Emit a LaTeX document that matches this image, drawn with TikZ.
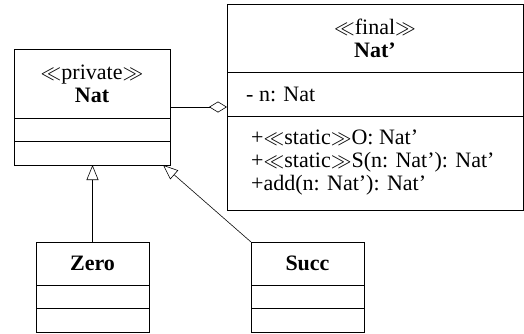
\documentclass[tikz,border=0pt]{standalone}
\usepackage{fontspec}
\setmainfont{LiberationSerif}[Extension=.ttf,UprightFont=*-Regular,BoldFont=*-Bold,
  ItalicFont=*-Italic,BoldItalicFont=*-BoldItalic]
\usetikzlibrary{arrows.meta,positioning,calc}
\tikzset{
  classhead/.style={draw,line width=0.8pt,inner sep=0pt,outer sep=0pt,align=center,
    font=\fontsize{22}{23}\selectfont},
  compart/.style={draw,line width=0.8pt,inner sep=0pt,outer sep=0pt,minimum height=23.5pt},
  member/.style={inner sep=0pt,align=left,anchor=west,font=\fontsize{22}{23}\selectfont},
  inherit/.style={line width=0.6pt,-{Triangle[open,length=15pt,width=12pt]}},
  aggreg/.style={line width=0.6pt,{Diamond[open,length=18pt,width=11pt]}-}
}

\begin{document}
\begin{tikzpicture}[x=1pt,y=-1pt]
\useasboundingbox (0,0) rectangle (524,333);

% Class Nat
\node[classhead,anchor=north west,minimum width=156pt,minimum height=69pt] (natH) at (14,49)
  {$\ll$private$\gg$\\\textbf{Nat}};
\node[compart,minimum width=156pt,below=0pt of natH] (natA) {};
\node[compart,minimum width=156pt,below=0pt of natA] (natO) {};

% Class Nat'
\node[classhead,anchor=north west,minimum width=296pt,minimum height=68.7pt] (finH) at (227,4)
  {$\ll$final$\gg$\\\textbf{Nat'}};
\node[compart,minimum width=296pt,minimum height=43.3pt,below=0pt of finH] (finA) {};
\node[compart,minimum width=296pt,minimum height=94pt,below=0pt of finA] (finO) {};
\node[member,right=19pt of finA.west] (finAtxt) {- n: Nat};
\node[member,right=24pt of finO.west] (finOtxt) {%
  +$\ll$static$\gg$O: Nat'\\
  +$\ll$static$\gg$S(n: Nat'): Nat'\\
  +add(n: Nat'): Nat'};

% Subclasses
\node[classhead,anchor=north west,minimum width=113pt,minimum height=43pt] (zeroH) at (36,242)
  {\textbf{Zero}};
\node[compart,minimum width=113pt,below=0pt of zeroH] (zeroA) {};
\node[compart,minimum width=113pt,below=0pt of zeroA] (zeroO) {};

\node[classhead,anchor=north west,minimum width=113pt,minimum height=43pt] (succH) at (251,242)
  {\textbf{Succ}};
\node[compart,minimum width=113pt,below=0pt of succH] (succA) {};
\node[compart,minimum width=113pt,below=0pt of succA] (succO) {};

% Generalisation
\draw[inherit] (zeroH.north) -- (zeroH.north |- natO.south);
\coordinate (succTip) at ($(natO.south east)+(-7,0)$);
\draw[inherit] (succH.north west) -- (succTip);

% Aggregation
\coordinate (aggEnd) at ($(natH.south east)+(0,-11)$);
\draw[aggreg] (aggEnd -| finA.west) -- (aggEnd);

\end{tikzpicture}
\end{document}
